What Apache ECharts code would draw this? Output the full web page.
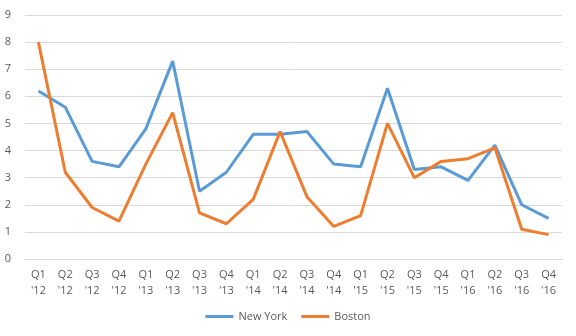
<!DOCTYPE html>
<html><head><meta charset="utf-8">
<script src="https://cdn.jsdelivr.net/npm/echarts@6/dist/echarts.min.js"></script>
<style>html,body{margin:0;padding:0;background:#fff}#c{width:576px;height:336px}</style>
</head><body><div id="c"></div>
<script>
const categories = ["Q1\n'12","Q2\n'12","Q3\n'12","Q4\n'12","Q1\n'13","Q2\n'13","Q3\n'13","Q4\n'13","Q1\n'14","Q2\n'14","Q3\n'14","Q4\n'14","Q1\n'15","Q2\n'15","Q3\n'15","Q4\n'15","Q1\n'16","Q2\n'16","Q3\n'16","Q4\n'16"];
const newYork = [6.2,5.6,3.6,3.4,4.8,7.3,2.5,3.2,4.6,4.6,4.7,3.5,3.4,6.3,3.3,3.4,2.9,4.2,2.0,1.5];
const boston = [8.0,3.2,1.9,1.4,3.5,5.4,1.7,1.3,2.2,4.7,2.3,1.2,1.6,5.0,3.0,3.6,3.7,4.1,1.1,0.9];
const seriesNames = ["New York","Boston"];
const chart = echarts.init(document.getElementById('c'), null, {renderer:'canvas'});
const font = "'Open Sans', 'Liberation Sans', sans-serif";
chart.setOption({
  animation:false,
  color:['#5B9BD5','#ED7D31'],
  grid:{left:25,right:14,top:15,bottom:77},
  legend:{bottom:9,left:'center',itemWidth:28,itemHeight:3,itemGap:14,icon:'rect',
    textStyle:{color:'#595959',fontSize:11,fontFamily:font},data:seriesNames},
  xAxis:{type:'category',data:categories,boundaryGap:true,
    axisLine:{lineStyle:{color:'#d9d9d9'}},axisTick:{show:false},
    axisLabel:{color:'#595959',fontSize:11,fontFamily:font,interval:0,lineHeight:16,margin:8}},
  yAxis:{type:'value',min:0,max:9,interval:1,
    axisLine:{show:false},axisTick:{show:false},
    splitLine:{lineStyle:{color:'#d9d9d9'}},
    axisLabel:{color:'#595959',fontSize:11,fontFamily:font,margin:14}},
  series:[
    {name:seriesNames[0],type:'line',data:newYork,symbol:'none',lineStyle:{width:3}},
    {name:seriesNames[1],type:'line',data:boston,symbol:'none',lineStyle:{width:3}}
  ]
});
</script></body></html>
